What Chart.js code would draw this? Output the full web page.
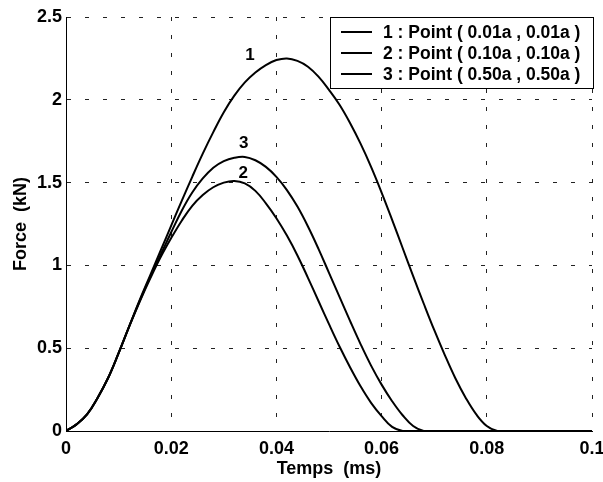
<!DOCTYPE html>
<html>
<head>
<meta charset="utf-8">
<script src="https://cdn.jsdelivr.net/npm/chart.js@4.4.0/dist/chart.umd.min.js"></script>
<style>
  html, body { margin: 0; padding: 0; background: #fff; }
  #wrap { width: 603px; height: 482px; }
</style>
</head>
<body>
<div id="wrap"><canvas id="forceChart" width="603" height="482"></canvas></div>
<script>
// time axis (ms), one sample every 0.002
const timeValues = [
  0, 0.002, 0.004, 0.006, 0.008, 0.010, 0.012, 0.014, 0.016, 0.018,
  0.020, 0.022, 0.024, 0.026, 0.028, 0.030, 0.032, 0.034, 0.036, 0.038,
  0.040, 0.042, 0.044, 0.046, 0.048, 0.050, 0.052, 0.054, 0.056, 0.058,
  0.060, 0.062, 0.064, 0.066, 0.068, 0.070, 0.072, 0.074, 0.076, 0.078,
  0.080, 0.082, 0.084, 0.086, 0.088, 0.090, 0.092, 0.094, 0.096, 0.098,
  0.100
];

// point 1 (0.01a, 0.01a)
const force1 = [
  0, 0.04, 0.10, 0.20, 0.32, 0.47, 0.63, 0.79, 0.94, 1.09,
  1.24, 1.39, 1.535, 1.675, 1.805, 1.925, 2.025, 2.105, 2.165, 2.21,
  2.24, 2.25, 2.235, 2.20, 2.14, 2.06, 1.97, 1.86, 1.735, 1.595,
  1.44, 1.275, 1.105, 0.935, 0.77, 0.61, 0.46, 0.32, 0.20, 0.10,
  0.03, 0, 0, 0, 0, 0, 0, 0, 0, 0,
  0
];

// point 2 (0.10a, 0.10a)
const force2 = [
  0, 0.04, 0.10, 0.20, 0.32, 0.47, 0.63, 0.78, 0.92, 1.05,
  1.165, 1.27, 1.36, 1.425, 1.472, 1.50, 1.51, 1.495, 1.45, 1.375,
  1.285, 1.18, 1.06, 0.925, 0.785, 0.645, 0.51, 0.385, 0.27, 0.17,
  0.09, 0.025, 0, 0, 0, 0, 0, 0, 0, 0,
  0, 0, 0, 0, 0, 0, 0, 0, 0, 0,
  0
];

// point 3 (0.50a, 0.50a)
const force3 = [
  0, 0.04, 0.10, 0.20, 0.32, 0.47, 0.63, 0.785, 0.93, 1.065,
  1.20, 1.33, 1.44, 1.525, 1.59, 1.63, 1.65, 1.655, 1.635, 1.595,
  1.535, 1.455, 1.355, 1.235, 1.10, 0.955, 0.81, 0.665, 0.525, 0.395,
  0.28, 0.18, 0.095, 0.03, 0, 0, 0, 0, 0, 0,
  0, 0, 0, 0, 0, 0, 0, 0, 0, 0,
  0
];

const seriesNames = [
  '1 : Point ( 0.01a , 0.01a )',
  '2 : Point ( 0.10a , 0.10a )',
  '3 : Point ( 0.50a , 0.50a )'
];

// curve tags drawn next to the peaks (data coordinates)
const peakTags = ['1', '2', '3'];
const peakTagTime = [0.035, 0.0337, 0.0338];
const peakTagForce = [2.27, 1.558, 1.739];

const xTickValues = [0, 0.02, 0.04, 0.06, 0.08, 0.1];
const yTickValues = [0, 0.5, 1, 1.5, 2, 2.5];

const FONT = 'Arial, "Liberation Sans", Helvetica, sans-serif';

function toPoints(values) {
  return timeValues.map((t, i) => ({ x: t, y: values[i] }));
}

// legend box + peak tags, drawn over the plot
const overlayPlugin = {
  id: 'overlay',
  afterDatasetsDraw(chart) {
    const { ctx, chartArea, scales } = chart;
    ctx.save();

    // peak tags
    ctx.fillStyle = '#000';
    ctx.font = 'bold 17px ' + FONT;
    ctx.textAlign = 'center';
    ctx.textBaseline = 'middle';
    peakTags.forEach((tag, i) => {
      ctx.fillText(tag, scales.x.getPixelForValue(peakTagTime[i]), scales.y.getPixelForValue(peakTagForce[i]));
    });

    // legend
    const boxRight = chartArea.right + 1;
    const boxLeft = boxRight - 263;
    const boxTop = chartArea.top;
    const boxH = 71;
    ctx.fillStyle = '#fff';
    ctx.fillRect(boxLeft, boxTop, boxRight - boxLeft, boxH);
    ctx.strokeStyle = '#000';
    ctx.lineWidth = 1;
    ctx.strokeRect(Math.round(boxLeft) + 0.5, Math.round(boxTop) + 0.5, boxRight - boxLeft, boxH);

    ctx.font = 'bold 17.5px ' + FONT;
    ctx.textAlign = 'left';
    ctx.textBaseline = 'middle';
    seriesNames.forEach((name, i) => {
      const y = boxTop + 15 + i * 21;
      ctx.beginPath();
      ctx.lineWidth = 2;
      ctx.moveTo(boxLeft + 11, y);
      ctx.lineTo(boxLeft + 42, y);
      ctx.stroke();
      ctx.fillStyle = '#000';
      ctx.fillText(name, boxLeft + 53, y + 1);
    });
    ctx.restore();
  }
};

class ForceChart {
  constructor() {
    this.chart = null;
    this.render();
  }

  render() {
    const ctx = document.getElementById('forceChart').getContext('2d');
    const lineStyle = {
      borderColor: '#000',
      borderWidth: 2,
      pointRadius: 0,
      fill: false,
      tension: 0.4
    };

    this.chart = new Chart(ctx, {
      type: 'line',
      data: {
        datasets: [
          { label: seriesNames[0], data: toPoints(force1), ...lineStyle },
          { label: seriesNames[1], data: toPoints(force2), ...lineStyle },
          { label: seriesNames[2], data: toPoints(force3), ...lineStyle }
        ]
      },
      options: {
        responsive: false,
        animation: false,
        layout: { padding: { top: 17, right: 11, left: 0, bottom: 0 } },
        plugins: {
          legend: { display: false },
          tooltip: { enabled: false }
        },
        scales: {
          x: {
            type: 'linear',
            min: 0,
            max: 0.1,
            afterFit(scale) {
              scale.height = 51;
              scale.paddingRight = 0;
              scale.paddingLeft = 0;
            },
            afterBuildTicks(scale) { scale.ticks = xTickValues.map(v => ({ value: v })); },
            grid: { color: '#222', lineWidth: 1, drawTicks: false },
            border: { display: true, color: '#000', width: 1, dash: [4, 14] },
            ticks: {
              padding: 7,
              color: '#000',
              font: { family: FONT, size: 18, weight: 'bold' },
              callback: v => String(Number(v.toFixed(2)))
            },
            title: {
              display: true,
              text: 'Temps  (ms)',
              color: '#000',
              font: { family: FONT, size: 18, weight: 'bold' },
              padding: { top: 0, bottom: 2 }
            }
          },
          y: {
            min: 0,
            max: 2.5,
            afterFit(scale) {
              scale.width = 66;
              scale.paddingTop = 0;
              scale.paddingBottom = 0;
            },
            afterBuildTicks(scale) { scale.ticks = yTickValues.map(v => ({ value: v })); },
            grid: { color: '#222', lineWidth: 1, drawTicks: false },
            border: { display: true, color: '#000', width: 1, dash: [4, 14] },
            ticks: {
              padding: 4,
              color: '#000',
              font: { family: FONT, size: 18, weight: 'bold' },
              callback: v => String(v)
            },
            title: {
              display: true,
              text: 'Force  (kN)',
              color: '#000',
              font: { family: FONT, size: 18, weight: 'bold' },
              padding: { top: 10, bottom: 0 }
            }
          }
        }
      },
      plugins: [overlayPlugin]
    });
  }
}

new ForceChart();
</script>
</body>
</html>
